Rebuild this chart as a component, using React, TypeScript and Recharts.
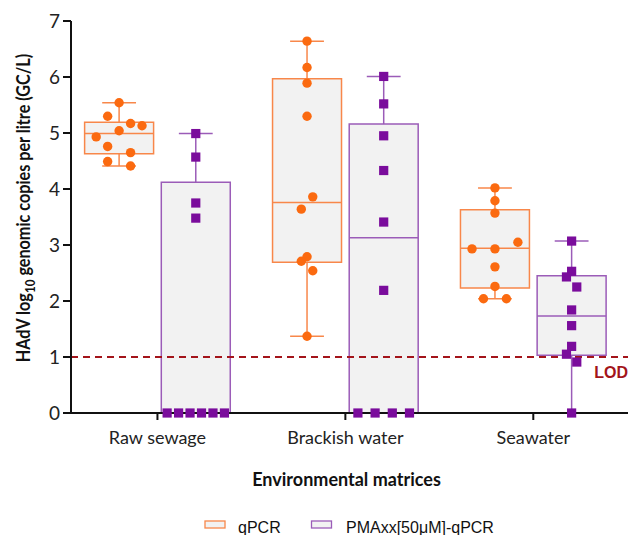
import React from "react";
import {
  ComposedChart,
  Scatter,
  XAxis,
  YAxis,
  ReferenceLine,
  ReferenceArea,
  Label,
} from "recharts";

// categories + axis
const categories = ["Raw sewage", "Brackish water", "Seawater"];
const yTicks = [0, 1, 2, 3, 4, 5, 6, 7];
const lodValue = 1;

// qPCR (log10 GC/L)
const rawQpcr = [5.54, 5.3, 5.17, 5.13, 5.04, 4.93, 4.76, 4.65, 4.49, 4.41];
const brackishQpcr = [6.64, 6.17, 5.89, 5.3, 3.86, 3.64, 2.79, 2.71, 2.54, 1.37];
const seaQpcr = [4.02, 3.79, 3.57, 3.05, 2.93, 2.93, 2.61, 2.26, 2.04, 2.04];

// PMAxx[50uM]-qPCR
const rawPma = [4.99, 4.57, 3.75, 3.48, 0, 0, 0, 0, 0, 0];
const brackishPma = [6.01, 5.52, 4.95, 4.33, 3.41, 2.19, 0, 0, 0, 0];
const seaPma = [3.07, 2.53, 2.43, 2.25, 1.84, 1.56, 1.19, 1.05, 0.91, 0];

// box stats: [min, q1, median, q3, max]
const qpcrBoxes = [
  [4.41, 4.63, 4.99, 5.19, 5.54],
  [1.37, 2.69, 3.76, 5.97, 6.64],
  [2.04, 2.23, 2.94, 3.63, 4.02],
];
const pmaBoxes = [
  [0, 0, 0, 4.12, 4.99],
  [0, 0, 3.13, 5.16, 6.01],
  [0, 1.03, 1.73, 2.45, 3.07],
];

// scatter spreading (slot index per point, like the original's column scatter)
const qpcrSlots = [
  [0, -1, 1, 2, 0, -2, -1, 1, -1, 1],
  [0, 0, 0, 0, 0.5, -0.5, 0, -0.5, 0.5, 0],
  [0, 0, 0, 2, -2, 0, 0, 0, -1, 1],
];
const pmaSlots = [
  [0, 0, 0, 0, -2.5, -1.5, -0.5, 0.5, 1.5, 2.5],
  [0, 0, 0, 0, 0, 0, -2.25, -0.75, 0.75, 2.25],
  [0, 0, -0.45, 0.45, 0, 0, 0, -0.45, 0.45, 0],
];

const SLOT = 0.061;
const OFFSET = 0.204;
const BOX_HALF = 0.1835;
const CAP_HALF = 0.09;

const ORANGE = "#fb6a10";
const ORANGE_LINE = "#f8874a";
const PURPLE = "#7a0c9c";
const PURPLE_LINE = "#9b5cb8";
const BOX_FILL = "#f2f2f2";
const LOD_RED = "#a3141a";

const makePoints = (groups: number[][], slots: number[][], side: number) =>
  groups.flatMap((vals, i) =>
    vals.map((v, j) => ({ x: i + side * OFFSET + slots[i][j] * SLOT, y: v }))
  );

const qpcrPoints = makePoints([rawQpcr, brackishQpcr, seaQpcr], qpcrSlots, -1);
const pmaPoints = makePoints([rawPma, brackishPma, seaPma], pmaSlots, 1);

const Dot = (props: any) => (
  <circle cx={props.cx} cy={props.cy} r={4.7} fill={ORANGE} />
);
const Square = (props: any) => (
  <rect x={props.cx - 4.6} y={props.cy - 4.6} width={9.2} height={9.2} fill={PURPLE} />
);

const YTitle = (props: any) => {
  const vb = props.viewBox || { y: 21, height: 392 };
  const cx = 30;
  const cy = vb.y + vb.height / 2 - 9;
  return (
    <text
      x={0}
      y={0}
      transform={`translate(${cx}, ${cy}) rotate(-90) scale(0.9, 1)`}
      textAnchor="middle"
      fontFamily="Lato"
      fontWeight={700}
      fontSize={18}
      fill="#111"
    >
      HAdV log
      <tspan fontSize={13} dy={5}>10</tspan>
      <tspan dy={-5}> genomic copies per litre (GC/L)</tspan>
    </text>
  );
};

const XTitle = (props: any) => {
  const vb = props.viewBox || { x: 71, y: 413, width: 557 };
  return (
    <text
      x={vb.x + vb.width / 2 - 3}
      y={486}
      textAnchor="middle"
      fontFamily="Lato"
      fontWeight={700}
      fontSize={18}
      fill="#111"
    >
      Environmental matrices
    </text>
  );
};

const LodLabel = (props: any) => {
  const vb = props.viewBox || { x: 71, y: 357, width: 557 };
  return (
    <text
      x={vb.x + vb.width}
      y={vb.y + 21}
      textAnchor="end"
      fontFamily="Liberation Sans"
      fontWeight={700}
      fontSize={16}
      fill={LOD_RED}
    >
      LOD
    </text>
  );
};

function boxElements(boxes: number[][], side: number, color: string, key: string) {
  return boxes.map(([min, q1, med, q3, max], i) => {
    const c = i + side * OFFSET;
    const els = [
      <ReferenceArea
        key={`${key}-box-${i}`}
        x1={c - BOX_HALF}
        x2={c + BOX_HALF}
        y1={q1}
        y2={q3}
        fill={BOX_FILL}
        fillOpacity={1}
        stroke={color}
        strokeWidth={1.5}
        ifOverflow="visible"
      />,
      <ReferenceLine
        key={`${key}-med-${i}`}
        segment={[{ x: c - BOX_HALF, y: med }, { x: c + BOX_HALF, y: med }]}
        stroke={color}
        strokeWidth={1.5}
        ifOverflow="visible"
      />,
    ];
    if (max > q3) {
      els.push(
        <ReferenceLine
          key={`${key}-wt-${i}`}
          segment={[{ x: c, y: q3 }, { x: c, y: max }]}
          stroke={color}
          strokeWidth={1.5}
          ifOverflow="visible"
        />,
        <ReferenceLine
          key={`${key}-ct-${i}`}
          segment={[{ x: c - CAP_HALF, y: max }, { x: c + CAP_HALF, y: max }]}
          stroke={color}
          strokeWidth={1.5}
          ifOverflow="visible"
        />
      );
    }
    if (min < q1) {
      els.push(
        <ReferenceLine
          key={`${key}-wb-${i}`}
          segment={[{ x: c, y: q1 }, { x: c, y: min }]}
          stroke={color}
          strokeWidth={1.5}
          ifOverflow="visible"
        />,
        <ReferenceLine
          key={`${key}-cb-${i}`}
          segment={[{ x: c - CAP_HALF, y: min }, { x: c + CAP_HALF, y: min }]}
          stroke={color}
          strokeWidth={1.5}
          ifOverflow="visible"
        />
      );
    }
    return els;
  });
}

const LegendBox = () => (
  <svg
    width={630}
    height={535}
    style={{ position: "absolute", left: 0, top: 0, pointerEvents: "none" }}
  >
    <rect x={205} y={521} width={20} height={7} fill={BOX_FILL} stroke={ORANGE_LINE} strokeWidth={1.3} />
    <text x={238} y={533} fontFamily="Liberation Sans" fontSize={16} fill="#111">
      qPCR
    </text>
    <rect x={311.5} y={521} width={20} height={7} fill={BOX_FILL} stroke={PURPLE_LINE} strokeWidth={1.3} />
    <text x={346} y={533} fontFamily="Liberation Sans" fontSize={16} fill="#111">
      PMAxx[50μM]-qPCR
    </text>
  </svg>
);

export default function App() {
  return (
    <div
      style={{
        position: "absolute",
        left: 0,
        top: 0,
        width: 630,
        height: 535,
        background: "#fff",
        overflow: "hidden",
      }}
    >
      <ComposedChart
        width={630}
        height={535}
        margin={{ top: 21, right: 2, bottom: 32, left: 0 }}
      >
        <XAxis
          type="number"
          dataKey="x"
          domain={[-0.46, 2.504]}
          ticks={[0, 1, 2]}
          interval={0}
          tickFormatter={(v: number) => categories[Math.round(v)]}
          height={90}
          tickSize={7}
          tickMargin={11}
          stroke="#111"
          strokeWidth={2}
          tick={{ fill: "#222", fontSize: 18, fontFamily: "Lato" }}
        >
          <Label content={XTitle} />
        </XAxis>
        <YAxis
          type="number"
          dataKey="y"
          domain={[0, 7]}
          ticks={yTicks}
          interval={0}
          width={71}
          tickSize={8}
          tickMargin={3}
          stroke="#111"
          strokeWidth={2}
          tick={{ fill: "#222", fontSize: 19, fontFamily: "Lato" }}
        >
          <Label content={YTitle} />
        </YAxis>

        {boxElements(qpcrBoxes, -1, ORANGE_LINE, "q")}
        {boxElements(pmaBoxes, 1, PURPLE_LINE, "p")}

        <ReferenceLine
          y={lodValue}
          stroke={LOD_RED}
          strokeWidth={2}
          strokeDasharray="7 5"
          label={<LodLabel />}
        />

        <Scatter
          name="qPCR"
          data={qpcrPoints}
          shape={Dot}
          isAnimationActive={false}
          zIndex={2000}
        />
        <Scatter
          name="PMAxx[50μM]-qPCR"
          data={pmaPoints}
          shape={Square}
          isAnimationActive={false}
          zIndex={2000}
        />
      </ComposedChart>
      <LegendBox />
    </div>
  );
}
